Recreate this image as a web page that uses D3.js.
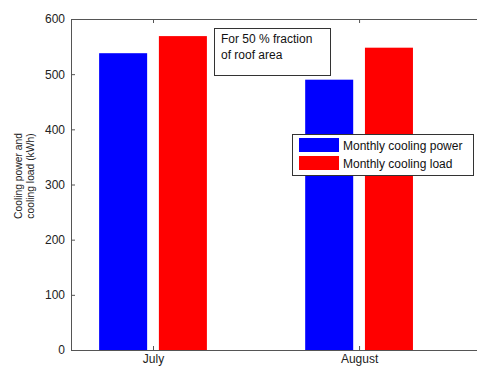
<!DOCTYPE html>
<html>
<head>
<meta charset="utf-8">
<script src="https://cdn.jsdelivr.net/npm/d3@7"></script>
<style>
  body { margin: 0; background: #fff; overflow: hidden; }
  svg { display: block; }
  text { font-family: "Liberation Sans", Arial, sans-serif; }
</style>
</head>
<body>
<script>
  // data
  let months = ['July', 'August'];
  let coolingPower = [538, 490];
  let coolingLoad = [569, 548];
  let seriesNames = ['Monthly cooling power', 'Monthly cooling load'];
  let seriesColors = ['#0000ff', '#ff0000'];
  let yTicks = [0, 100, 200, 300, 400, 500, 600];

  ! function () {
    let W = 477, H = 366;
    let mLeft = 71, mRight = 479, mTop = 19, mBottom = 350;

    let svg = d3.select('body').append('svg').attr('width', W).attr('height', H);

    // x in "bar units" like matlab: July = 1, August = 2
    let x = d3.scaleLinear().domain([0.602, 2.582]).range([mLeft, mRight]);
    let y = d3.scaleLinear().domain([0, 600]).range([mBottom, mTop]);

    let barW = 0.233, barOff = 0.145;

    /**
     * bars
     */
    let series = [coolingPower, coolingLoad];
    series.forEach(function (vals, s) {
      svg.append('g').selectAll('rect')
        .data(vals)
        .enter().append('rect')
        .attr('x', function (d, i) { return x(i + 1 + (s === 0 ? -barOff : barOff) - barW / 2); })
        .attr('width', function () { return x(barW) - x(0); })
        .attr('y', function (d) { return y(d); })
        .attr('height', function (d) { return y(0) - y(d); })
        .style('fill', seriesColors[s]);
    });

    /**
     * axes (matlab style, ticks inward, box)
     */
    let axColor = '#555';
    let yAxis = d3.axisLeft(y).tickValues(yTicks).tickSizeInner(-4).tickSizeOuter(0).tickPadding(6);
    let gy = svg.append('g').attr('transform', 'translate(' + mLeft + ',0)').call(yAxis);

    let xAxis = d3.axisBottom(x).tickValues([1, 2]).tickFormat(function (d) { return months[d - 1]; })
      .tickSizeInner(-4).tickSizeOuter(0);
    let gx = svg.append('g').attr('transform', 'translate(0,' + mBottom + ')').call(xAxis);
    let xAxisT = d3.axisTop(x).tickValues([1, 2]).tickFormat('').tickSizeInner(-4).tickSizeOuter(0);
    let gxt = svg.append('g').attr('transform', 'translate(0,' + mTop + ')').call(xAxisT);

    [gy, gx, gxt].forEach(function (g) {
      g.selectAll('path').style('stroke', axColor);
      g.selectAll('line').style('stroke', axColor);
      g.selectAll('text').style('fill', '#222').style('font-size', '12px')
        .style('font-family', '"Liberation Sans", Arial, sans-serif');
    });
    gx.selectAll('text').attr('dy', null).attr('y', 13);

    // y label
    let ylab = svg.append('g').attr('transform', 'translate(0,176) rotate(-90)');
    ylab.append('text').attr('x', 0).attr('y', 22).attr('text-anchor', 'middle')
      .style('font-size', '10.3px').style('fill', '#222').text('Cooling power and');
    ylab.append('text').attr('x', 0).attr('y', 34).attr('text-anchor', 'middle')
      .style('font-size', '10.3px').style('fill', '#222').text('cooling load (kWh)');

    /**
     * annotation box
     */
    svg.append('rect').attr('x', 214.5).attr('y', 28.5).attr('width', 116).attr('height', 47)
      .style('fill', '#fff').style('stroke', '#333');
    svg.append('text').attr('x', 221).attr('y', 43).style('font-size', '12px').style('fill', '#111')
      .text('For 50 % fraction');
    svg.append('text').attr('x', 221).attr('y', 59).style('font-size', '12px').style('fill', '#111')
      .text('of roof area');

    /**
     * legend
     */
    let lg = svg.append('g').attr('transform', 'translate(292.5,134.5)');
    lg.append('rect').attr('width', 181).attr('height', 41).style('fill', '#fff').style('stroke', '#333');
    seriesNames.forEach(function (name, i) {
      lg.append('rect').attr('x', 6.5).attr('y', 3.5 + i * 18).attr('width', 40).attr('height', 14)
        .style('fill', seriesColors[i]);
      lg.append('text').attr('x', 50.5).attr('y', 15 + i * 18).style('font-size', '12px').style('fill', '#111')
        .text(name);
    });
  }()
</script>
</body>
</html>
